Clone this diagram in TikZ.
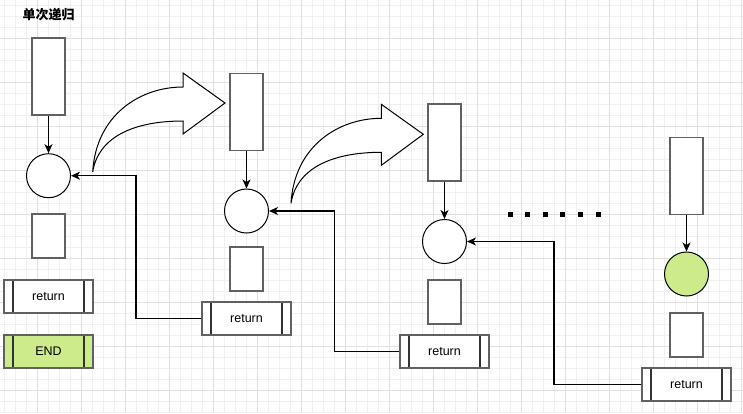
\documentclass[tikz,border=0pt]{standalone}
\usepackage{fontspec}
\setmainfont{Liberation Sans}
\newfontfamily\cjk{Noto Sans CJK SC}
\usetikzlibrary{arrows.meta}
\definecolor{endgreen}{RGB}{205,235,139}
\tikzset{
 box/.style={rectangle, draw=black!62, line width=1.2pt, fill=white, minimum width=33pt, inner sep=0pt},
 tall/.style={box, minimum height=77pt},
 short/.style={box, minimum height=44pt},
 state/.style={circle, draw=black, line width=1pt, fill=white, minimum size=44pt, inner sep=0pt},
 retbox/.style={rectangle, draw=black!62, line width=1.2pt, fill=white, minimum width=89pt, minimum height=33pt,
   inner sep=0pt, font=\fontsize{12.5}{14}\selectfont,
   path picture={
    \draw[black!80, line width=1.2pt] ([xshift=9pt]path picture bounding box.north west) -- ([xshift=9pt]path picture bounding box.south west);
    \draw[black!80, line width=1.2pt] ([xshift=-9pt]path picture bounding box.north east) -- ([xshift=-9pt]path picture bounding box.south east);
   }},
 link/.style={draw=black, line width=1.2pt, ->},
 minorgrid/.style={black!6, line width=0.8pt},
 majorgrid/.style={black!12, line width=0.8pt},
}
\begin{document}
\begin{tikzpicture}[x=1pt, y=-1pt, >={Stealth[length=9pt,width=8pt,inset=2.5pt]}]
\useasboundingbox (0,0) rectangle (743,413);
\fill[white] (0,0) rectangle (743,413);
% grid
\foreach \i in {0,...,67} \draw[minorgrid] (4.3+11*\i,0) -- (4.3+11*\i,413);
\foreach \j in {0,...,37} \draw[minorgrid] (0,5+11*\j) -- (743,5+11*\j);
\foreach \i in {0,...,16} \draw[majorgrid] (37.3+44*\i,0) -- (37.3+44*\i,413);
\foreach \j in {0,...,8} \draw[majorgrid] (0,38+44*\j) -- (743,38+44*\j);

\node[font=\cjk\bfseries\fontsize{13}{15}\selectfont] (title) at (48.5,15) {单次递归};

% first call
\node[tall] (t1) at (48.5,76.5) {};
\node[state] (c1) at (48.5,175.7) {};
\node[short] (s1) at (48.5,236) {};
\node[retbox] (r1) at (48.5,296.5) {return};
\node[retbox, fill=endgreen] (end) at (48.5,351.5) {END};

% second call
\node[tall] (t2) at (246.5,112) {};
\node[state] (c2) at (246.5,211) {};
\node[short] (s2) at (246.5,269) {};
\node[retbox] (r2) at (246.5,318.5) {return};

% third call
\node[tall] (t3) at (444.5,142.5) {};
\node[state] (c3) at (444.5,241.5) {};
\node[short] (s3) at (444.5,302) {};
\node[retbox] (r3) at (444.5,351.5) {return};

% last call
\node[tall] (t4) at (686.5,176) {};
\node[state, fill=endgreen] (c4) at (686.5,274) {};
\node[short] (s4) at (686.5,335) {};
\node[retbox] (r4) at (686.5,384.5) {return};

\draw[link] (t1) -- (c1);
\draw[link] (t2) -- (c2);
\draw[link] (t3) -- (c3);
\draw[link] (t4) -- (c4);

\draw[link] (r2.west) -- ++(-65.5,0) |- (c1.east);
\draw[link] (r3.west) -- ++(-65,0) |- (c2.east);
\draw[link] (r4.west) -- ++(-87.5,0) |- (c3.east);

% curved arrows
\foreach \dx/\dy in {0/0,198.3/31.3}
 \draw[line width=1pt, fill=white, shift={(\dx,\dy)}] (92.7,172) .. controls (96,115) and (140,87) .. (183,87)
   -- (183,73) -- (225,103) -- (183,134) -- (183,121) .. controls (132,121) and (98,138) .. cycle;

% dots
\foreach \i in {0,...,5} \fill (510+17.66*\i-2.5,211.5) rectangle ++(5,5);
\end{tikzpicture}
\end{document}
